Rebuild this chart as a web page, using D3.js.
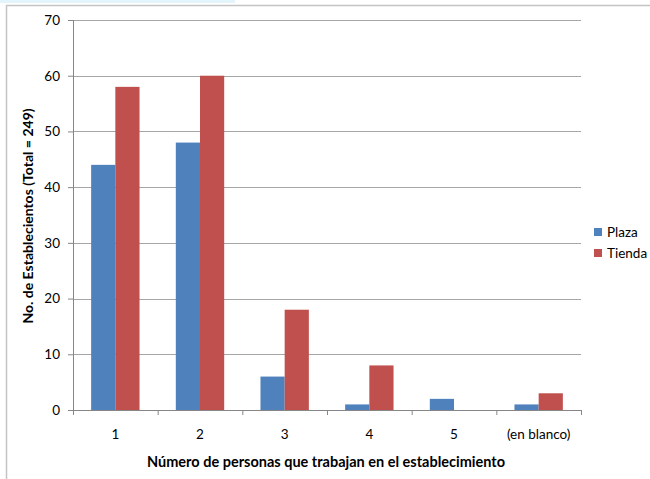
<!DOCTYPE html>
<html>
<head>
<meta charset="utf-8">
<script src="https://cdn.jsdelivr.net/npm/d3@7"></script>
<style>
  html, body { margin: 0; padding: 0; background: #fff; }
  svg { display: block; font-family: Lato, "Open Sans", sans-serif; }
</style>
</head>
<body>
<svg id="chart" width="650" height="479"></svg>
<script>
// Establishments by number of people working there
const categories = ["1", "2", "3", "4", "5", "(en blanco)"];
const seriesNames = ["Plaza", "Tienda"];
const plaza = [44, 48, 6, 1, 2, 1];
const tienda = [58, 60, 18, 8, 0, 3];
const yTicks = [0, 10, 20, 30, 40, 50, 60, 70];
const colors = { Plaza: "#4F81BD", Tienda: "#C0504D" };

const svg = d3.select("#chart");

// faint banner strip along the top edge
svg.append("rect").attr("x", 0).attr("y", 0).attr("width", 235).attr("height", 3)
  .attr("fill", "#dcf3f9").attr("opacity", 0.8);

// outer frame (top and left edges)
svg.append("path").attr("d", "M6.5,479 V5.5 H650")
  .attr("fill", "none").attr("stroke", "#c4c4c4").attr("stroke-width", 1.5);

const plot = { left: 73, right: 581, top: 20, bottom: 410 };

const x0 = d3.scaleBand().domain(categories).range([plot.left, plot.right]).paddingInner(0).paddingOuter(0);
const x1 = d3.scaleBand().domain(seriesNames).range([0, x0.bandwidth()]).paddingInner(0).paddingOuter(0.75);
const y = d3.scaleLinear().domain([0, 70]).range([plot.bottom, plot.top]);

// horizontal gridlines
svg.append("g").selectAll("line").data(yTicks.filter(d => d > 0)).join("line")
  .attr("x1", plot.left).attr("x2", plot.right)
  .attr("y1", d => Math.round(y(d)) + 0.5).attr("y2", d => Math.round(y(d)) + 0.5)
  .attr("stroke", "#a6a6a6").attr("stroke-width", 1);

// bars
const rows = categories.map((c, i) => ({ cat: c, Plaza: plaza[i], Tienda: tienda[i] }));
const groups = svg.append("g").selectAll("g").data(rows).join("g")
  .attr("transform", d => `translate(${x0(d.cat)},0)`);
groups.selectAll("rect").data(d => seriesNames.map(s => ({ s, v: d[s] })).filter(e => e.v > 0)).join("rect")
  .attr("x", d => x1(d.s)).attr("width", x1.bandwidth())
  .attr("y", d => y(d.v)).attr("height", d => y(0) - y(d.v))
  .attr("fill", d => colors[d.s]);

// y axis
const yAxis = svg.append("g").attr("transform", `translate(${plot.left},0)`)
  .call(d3.axisLeft(y).tickValues(yTicks).tickSize(5).tickPadding(8));
// x axis
const xAxis = svg.append("g").attr("transform", `translate(0,${plot.bottom})`)
  .call(d3.axisBottom(x0).tickSize(0).tickPadding(19));
// x ticks at band boundaries
const bounds = categories.map(c => x0(c)).concat([plot.right]);
xAxis.selectAll(".bound").data(bounds).join("line").attr("class", "bound")
  .attr("x1", d => d + 0.5).attr("x2", d => d + 0.5).attr("y1", 0).attr("y2", 5)
  .attr("stroke", "#868686");

[yAxis, xAxis].forEach(a => {
  a.select(".domain").attr("stroke", "#868686");
  a.selectAll(".tick line").attr("stroke", "#868686");
  a.selectAll("text").attr("fill", "#000").style("font-size", "13.5px").style("font-family", "Lato, sans-serif");
});

// axis titles
svg.append("text").attr("x", (plot.left + plot.right) / 2 - 1).attr("y", 467)
  .attr("text-anchor", "middle").style("font-size", "14.5px").style("font-weight", "bold")
  .text("Número de personas que trabajan en el establecimiento");
svg.append("text").attr("transform", "translate(33,216) rotate(-90)")
  .attr("text-anchor", "middle").style("font-size", "14px").style("font-weight", "bold")
  .text("No. de Establecientos (Total = 249)");

// legend
const legend = svg.append("g").attr("transform", "translate(594,228)");
seriesNames.forEach((s, i) => {
  const g = legend.append("g").attr("transform", `translate(0,${i * 21})`);
  g.append("rect").attr("width", 8).attr("height", 8).attr("fill", colors[s]);
  g.append("text").attr("x", 13).attr("y", 9).style("font-size", "13.5px").text(s);
});
</script>
</body>
</html>
